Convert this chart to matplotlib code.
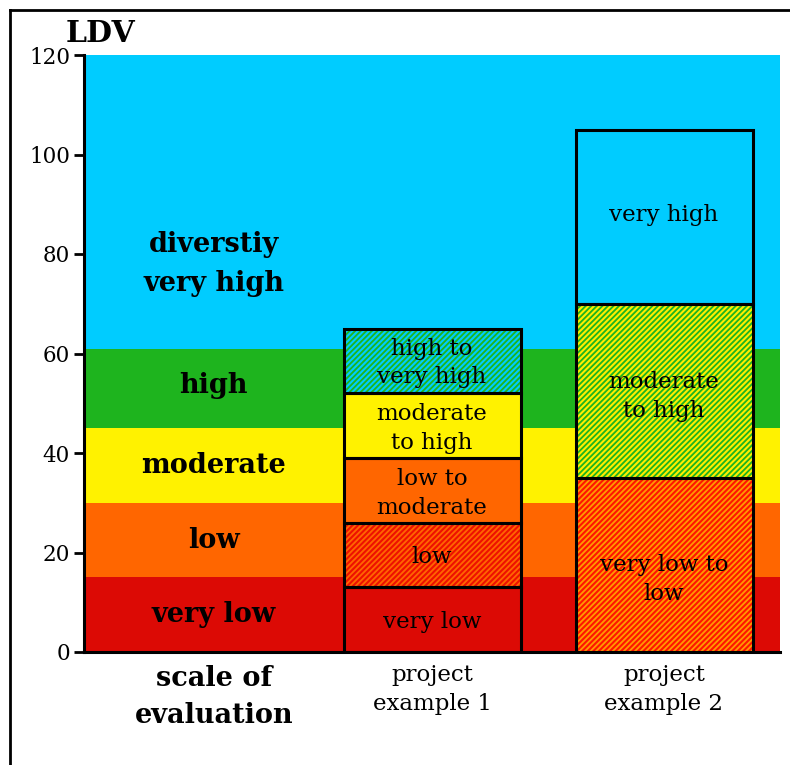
import matplotlib
matplotlib.use("Agg")
import matplotlib.pyplot as plt
from matplotlib.lines import Line2D

# ---------------- data ----------------
band_names = ["very low", "low", "moderate", "high", "diverstiy\nvery high"]
band_bounds = [0, 15, 30, 45, 61, 120]
band_colors = ["#dc0a05", "#ff6600", "#fff200", "#1eb41e", "#00ccff"]
band_label_y = [7.5, 22.5, 37.5, 53.5, 78]

p1_labels = ["very low", "low", "low to\nmoderate", "moderate\nto high", "high to\nvery high"]
p1_bounds = [0, 13, 26, 39, 52, 65]
p1_face = ["#dc0a05", "#ff6600", "#ff6600", "#fff200", "#1eb41e"]
p1_hatchcol = [None, "#ee1100", None, None, "#00ccff"]

p2_labels = ["very low to\nlow", "moderate\nto high", "very high"]
p2_bounds = [0, 35, 70, 105]
p2_face = ["#ff9a00", "#1eb41e", "#00ccff"]
p2_hatchcol = ["#ff1500", "#ffee00", None]

x_labels = ["scale of\nevaluation", "project\nexample 1", "project\nexample 2"]
y_ticks = [0, 20, 40, 60, 80, 100, 120]

# ---------------- plot ----------------
plt.rcParams["font.family"] = ["DejaVu Serif"]
plt.rcParams["hatch.linewidth"] = 1.5

fig = plt.figure(figsize=(7.9, 7.65), dpi=100)
ax = fig.add_axes([84 / 790, 1 - 652 / 765, 696 / 790, 597 / 765])
ax.set_xlim(-0.5, 2.5)
ax.set_ylim(0, 120)

scale_x = 0.06
for lo, hi, c, name, ly in zip(band_bounds[:-1], band_bounds[1:], band_colors, band_names, band_label_y):
    ax.axhspan(lo, hi, color=c, lw=0, zorder=0)
    ax.text(scale_x, ly, name, ha="center", va="center", fontsize=19.5,
            fontweight="bold", linespacing=1.55, zorder=5)

bar_w = 177 / 232

def stack(xpos, bounds, faces, hatches, labels, dy):
    for lo, hi, fc, hc, lab, d in zip(bounds[:-1], bounds[1:], faces, hatches, labels, dy):
        if hc is None:
            ax.bar(xpos, hi - lo, bottom=lo, width=bar_w, color=fc, lw=0, zorder=2)
        else:
            ax.bar(xpos, hi - lo, bottom=lo, width=bar_w, color=fc, edgecolor=hc,
                   hatch="//////", lw=0, zorder=2)
        ax.bar(xpos, hi - lo, bottom=lo, width=bar_w, fill=False, edgecolor="black",
               lw=2.2, zorder=3)
        ax.text(xpos, (lo + hi) / 2 + d, lab, ha="center", va="center",
                fontsize=16.5, linespacing=1.4, zorder=5)

stack(1, p1_bounds, p1_face, p1_hatchcol, p1_labels, [-0.5, -0.5, -0.6, -0.6, -0.4])
stack(2, p2_bounds, p2_face, p2_hatchcol, p2_labels, [-3.0, -1.2, 0.3])

ax.set_yticks(y_ticks)
ax.set_yticklabels([str(v) for v in y_ticks], fontsize=15.5)
ax.tick_params(axis="y", direction="out", length=7, width=2, pad=3)
ax.set_xticks([scale_x, 1, 2])
ax.set_xticklabels(x_labels, fontsize=16.5, linespacing=1.4)
ax.tick_params(axis="x", length=0, pad=9)
xt = ax.get_xticklabels()
xt[0].set_fontweight("bold")
xt[0].set_fontsize(19.5)
xt[0].set_linespacing(1.5)

for s in ["top", "right"]:
    ax.spines[s].set_visible(False)
ax.spines["left"].set_linewidth(2.2)
ax.spines["bottom"].set_linewidth(2.2)

ax.text(-0.027, 1.012, "LDV", transform=ax.transAxes,
        fontsize=21.5, fontweight="bold", ha="left", va="bottom")

# figure frame (left and top lines)
fig.add_artist(Line2D([10 / 790, 10 / 790], [0, 1 - 10 / 765], transform=fig.transFigure,
                      color="black", lw=2))
fig.add_artist(Line2D([10 / 790, 1], [1 - 10 / 765, 1 - 10 / 765], transform=fig.transFigure,
                      color="black", lw=2))

fig.savefig("out.png", dpi=100)
